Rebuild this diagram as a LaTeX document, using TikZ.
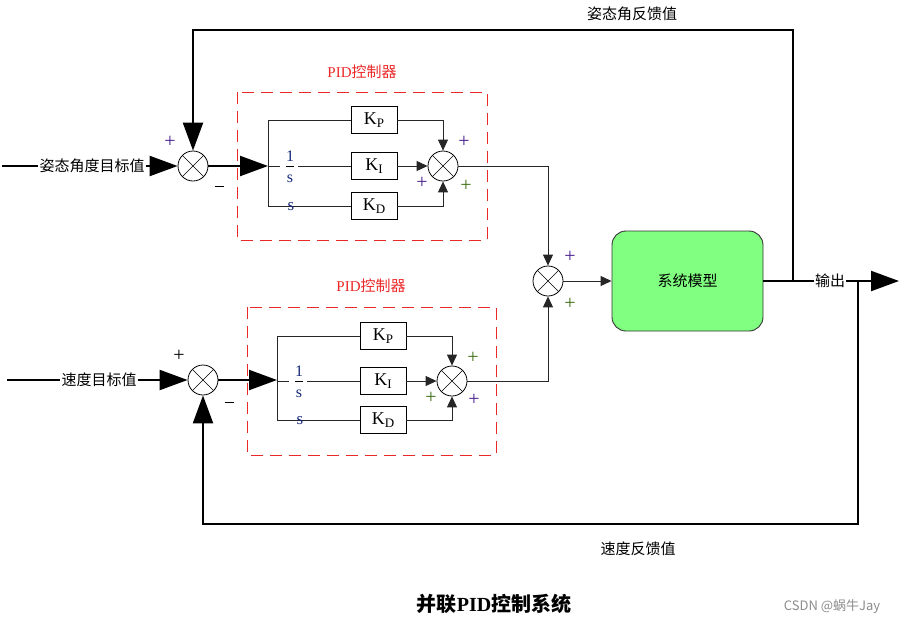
\documentclass[tikz,border=0pt]{standalone}
\usepackage{fontspec}
\setmainfont{Liberation Serif}
\newfontfamily\cjk{Noto Sans CJK SC}
\usetikzlibrary{arrows.meta}
\definecolor{pidred}{RGB}{235,40,40}
\definecolor{modelgreen}{RGB}{128,255,128}
\definecolor{signpurple}{RGB}{70,30,140}
\definecolor{signgreen}{RGB}{60,110,20}
\definecolor{fracblue}{RGB}{20,40,120}
\newcommand{\gainK}[1]{K\raisebox{-0.45ex}{\fontsize{13}{13}\selectfont #1}}
\begin{document}
\begin{tikzpicture}[x=1pt,y=-1pt,
  thickln/.style={line width=2.2pt},
  thinln/.style={line width=0.9pt, draw=black!85},
  bigarrow/.style={-{Triangle[length=28pt,width=20pt]}},
  smallarrow/.style={-{Triangle[length=11pt,width=10pt]}},
  sumx/.style={circle, draw, line width=0.8pt, minimum size=30pt, inner sep=0pt, fill=white,
    path picture={\draw[line width=0.6pt] (path picture bounding box.north west)--(path picture bounding box.south east)
      (path picture bounding box.north east)--(path picture bounding box.south west);}},
  gain/.style={draw, line width=0.9pt, minimum width=46pt, minimum height=27pt, inner sep=0pt, font=\fontsize{18}{18}\selectfont},
  lbl/.style={font=\cjk\fontsize{15}{15}\selectfont, fill=white, inner sep=1pt},
  pidlbl/.style={font=\fontsize{15}{15}\selectfont, text=pidred},
  pidbox/.style={draw=pidred, line width=1pt, dash pattern=on 12pt off 7pt},
  sign/.style={font=\fontsize{20}{20}\selectfont, inner sep=0pt},
  fracpart/.style={font=\fontsize{16}{16}\selectfont, text=fracblue, inner sep=0pt},
  fracbar/.style={line width=0.9pt},
  dlbl/.style={font=\fontsize{17}{17}\selectfont, text=fracblue, anchor=base, inner sep=0pt}
]
\useasboundingbox (0,0) rectangle (900,625);

% ---------------- top loop ----------------
\node[sumx] (s1) at (193,166) {};
\coordinate (in1) at (2,166);
\node[lbl] (t1) at (92,166) {姿态角度目标值};
\draw[thickln] (in1) -- (t1.west);
\draw[thickln,bigarrow] (t1.east) -- (s1.west);
\node[sign,text=signpurple] (p1) at (170,142) {+};
\node[sign] (m1) at (219,188) {\rule[0.3ex]{9pt}{0.8pt}};

\draw[pidbox] (237,92) rectangle (487,240);
\node[pidlbl] (pl1) at (362,72) {PID{\cjk 控制器}};

\coordinate (j1) at (268,166);
\draw[thickln,bigarrow] (s1.east) -- (j1);
\node[gain] (kp1) at (374,120) {\gainK{P}};
\node[gain] (ki1) at (374,166) {\gainK{I}};
\node[gain] (kd1) at (374,206) {\gainK{D}};
\draw[thinln] (kp1.west) -| (j1);
\draw[thinln] (kd1.west) -| (j1);
\coordinate (fa1) at (280,166);
\coordinate (fb1a) at (286,166);
\coordinate (fb1b) at (294,166);
\coordinate (fc1) at (298,166);
\draw[thinln] (j1) -- (fa1);
\draw[fracbar] (fb1a) -- (fb1b);
\draw[thinln] (fc1) -- (ki1.west);
\node[fracpart,anchor=base] (n1) at (290,161) {1};
\node[fracpart,anchor=base] (dn1) at (290,182) {s};
\node[dlbl] (d1) at (291,210) {s};

\node[sumx] (s1i) at (443,166) {};
\draw[thinln,smallarrow] (kp1.east) -| (s1i.north);
\draw[thinln,smallarrow] (ki1.east) -- (s1i.west);
\draw[thinln,smallarrow] (kd1.east) -| (s1i.south);
\node[sign,text=signpurple] at (464,142) {+};
\node[sign,text=signpurple] at (422,183) {+};
\node[sign,text=signgreen] at (466,186) {+};

% ---------------- bottom loop ----------------
\node[sumx] (s2) at (203,380) {};
\coordinate (in2) at (7,380);
\node[lbl] (t2) at (99,380) {速度目标值};
\draw[thickln] (in2) -- (t2.west);
\draw[thickln,bigarrow] (t2.east) -- (s2.west);
\node[sign] at (179,356) {+};
\node[sign] at (229,404) {\rule[0.3ex]{9pt}{0.8pt}};

\draw[pidbox] (247,307) rectangle (496,455);
\node[pidlbl] (pl2) at (371,286) {PID{\cjk 控制器}};

\coordinate (j2) at (277,381);
\draw[thickln,bigarrow] (s2.east) -- (j2 |- s2.east);
\node[gain] (kp2) at (383,336) {\gainK{P}};
\node[gain] (ki2) at (383,381) {\gainK{I}};
\node[gain] (kd2) at (383,420) {\gainK{D}};
\draw[thinln] (kp2.west) -| (j2);
\draw[thinln] (kd2.west) -| (j2);
\coordinate (fa2) at (289,381);
\coordinate (fb2a) at (295,381);
\coordinate (fb2b) at (303,381);
\coordinate (fc2) at (307,381);
\draw[thinln] (j2) -- (fa2);
\draw[fracbar] (fb2a) -- (fb2b);
\draw[thinln] (fc2) -- (ki2.west);
\node[fracpart,anchor=base] (n2) at (299,376) {1};
\node[fracpart,anchor=base] (dn2) at (299,397) {s};
\node[dlbl] (d2) at (300,424) {s};

\node[sumx] (s2i) at (452,381) {};
\draw[thinln,smallarrow] (kp2.east) -| (s2i.north);
\draw[thinln,smallarrow] (ki2.east) -- (s2i.west);
\draw[thinln,smallarrow] (kd2.east) -| (s2i.south);
\node[sign,text=signgreen] at (473,358) {+};
\node[sign,text=signgreen] at (431,398) {+};
\node[sign,text=signpurple] at (474,400) {+};

% ---------------- plant ----------------
\node[sumx] (sm) at (548,281) {};
\draw[thinln,smallarrow] (s1i.east) -| (sm.north);
\draw[thinln,smallarrow] (s2i.east) -| (sm.south);
\node[sign,text=signpurple] at (570,257) {+};
\node[sign,text=signgreen] at (570,304) {+};

\node[draw=black!80, line width=0.9pt, fill=modelgreen, rounded corners=14pt,
      minimum width=151pt, minimum height=100pt, font=\cjk\fontsize{15}{15}\selectfont] (model) at (687.5,281) {系统模型};
\draw[thinln,smallarrow] (sm.east) -- (model.west);

\node[lbl] (out) at (830,281) {输出};
\coordinate (br1) at (793,281);
\coordinate (br2) at (858,281);
\coordinate (outend) at (899,281);
\draw[thickln] (model.east) -- (out.west);
\draw[thickln,bigarrow] (out.east) -- (outend);

% feedback paths
\draw[thickln,bigarrow] (br1) |- (s1.north |- 0,30) -- (s1.north);
\draw[thickln,bigarrow] (br2) |- (s2.south |- 0,524) -- (s2.south);
\node[lbl] (fbl1) at (632,14) {姿态角反馈值};
\node[lbl] (fbl2) at (638,549) {速度反馈值};

% captions
\node[font=\fontsize{20}{20}\selectfont\bfseries] (title) at (494,604) {{\cjk 并联}PID{\cjk 控制系统}};
\node[font=\cjk\fontsize{13}{13}\selectfont, text=black!45] (wm) at (832,607) {CSDN @蜗牛Jay};
\end{tikzpicture}
\end{document}
